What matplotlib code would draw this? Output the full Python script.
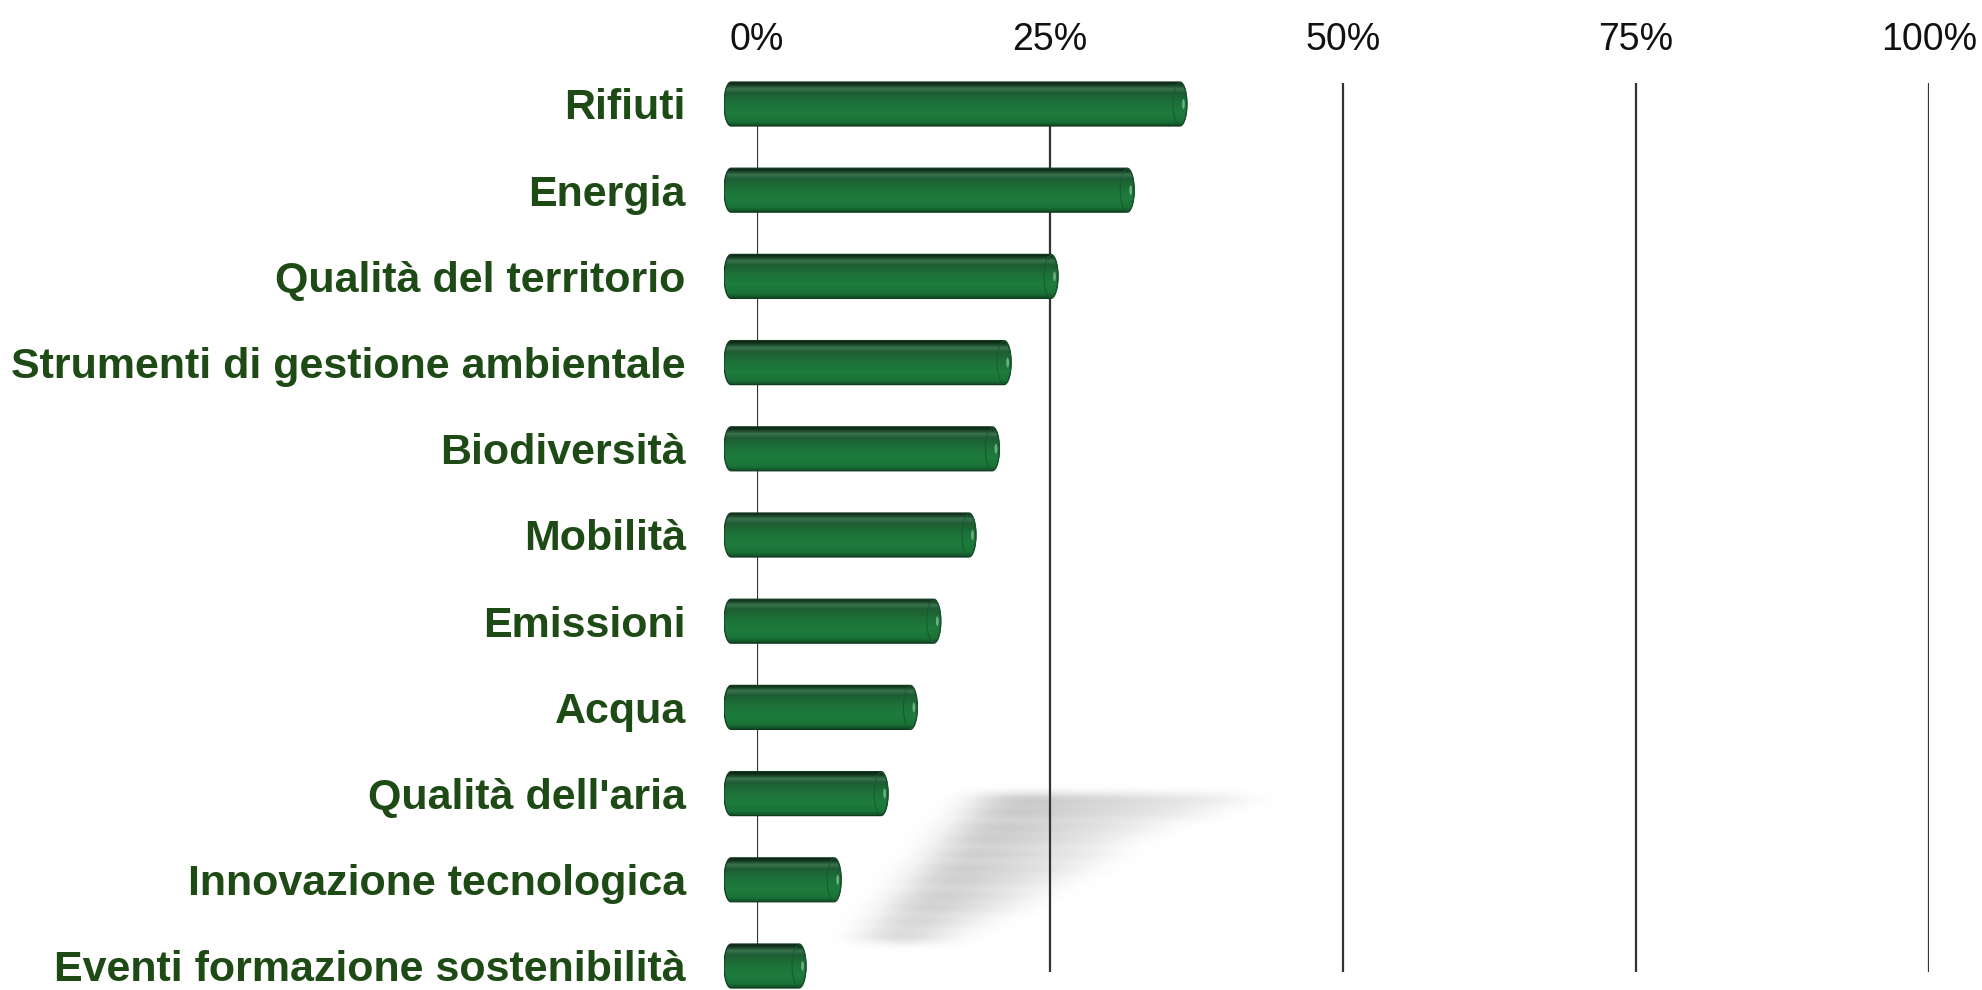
import numpy as np
import matplotlib
matplotlib.use("Agg")
import matplotlib.pyplot as plt
from matplotlib.colors import LinearSegmentedColormap
from matplotlib.patches import PathPatch, Ellipse
from matplotlib.path import Path

# data (percent of respondents)
categories = ["Rifiuti", "Energia", "Qualità del territorio",
              "Strumenti di gestione ambientale", "Biodiversità", "Mobilità",
              "Emissioni", "Acqua", "Qualità dell'aria",
              "Innovazione tecnologica", "Eventi formazione sostenibilità"]
values = [39.5, 35, 28.5, 24.5, 23.5, 21.5, 18.5, 16.5, 14, 10, 7]
ticks = [0, 25, 50, 75, 100]
tick_labels = ["0%", "25%", "50%", "75%", "100%"]

W, H = 1982, 990
plt.rcParams['font.family'] = ['Liberation Sans', 'DejaVu Sans']

# layout in pixels
px_per_pct = 11.72
bar_zero_px = 724       # where bars start (front plane)
grid_zero_px = 757      # where 0% gridline sits (back plane)
row0_px, row_step_px = 104, 86.2
grid_top_px, grid_bot_px = 83, 972
bar_half = 22 / row_step_px
cap_rx = 7 / px_per_pct

label_green = "#1d4a15"
cyl_cmap = LinearSegmentedColormap.from_list("cyl", [
    (0.00, "#0a1f10"), (0.07, "#173f24"), (0.15, "#3a7550"),
    (0.24, "#1f5c33"), (0.45, "#1c7038"), (0.70, "#1e7c3d"),
    (0.90, "#1a7238"), (1.00, "#0f4a22")])


def gaussian_blur(img, sx, sy):
    def kern(s):
        r = int(3 * s)
        k = np.exp(-np.arange(-r, r + 1) ** 2 / (2 * s * s))
        return k / k.sum()
    kx, ky = kern(sx), kern(sy)
    img = np.apply_along_axis(lambda r: np.convolve(r, kx, mode='same'), 1, img)
    img = np.apply_along_axis(lambda c: np.convolve(c, ky, mode='same'), 0, img)
    return img


def capsule_path(x1, yc, hh, rx):
    t = np.linspace(np.pi / 2, 3 * np.pi / 2, 25)
    left = np.column_stack([rx + rx * np.cos(t), yc - hh * np.sin(t)])
    t = np.linspace(-np.pi / 2, np.pi / 2, 25)
    right = np.column_stack([x1 - rx + rx * np.cos(t), yc - hh * np.sin(t)])
    verts = np.vstack([left, right, left[:1]])
    return Path(verts, closed=True)


def draw_cylinder(ax, yc, v):
    path = capsule_path(v, yc, bar_half, cap_rx)
    outline = PathPatch(path, facecolor="none", edgecolor="#123a1f", lw=0.9, zorder=3)
    ax.add_patch(outline)
    grad = np.linspace(0, 1, 200).reshape(-1, 1)
    im = ax.imshow(grad, extent=(0, v, yc + bar_half, yc - bar_half), origin='upper',
                   aspect='auto', cmap=cyl_cmap, zorder=2, interpolation='bilinear')
    im.set_clip_path(outline)
    # end cap
    ax.add_patch(Ellipse((v - cap_rx, yc), 2 * cap_rx, 2 * bar_half * 0.96,
                         facecolor="none", edgecolor="#165a2e", lw=0.7, zorder=4))
    ax.add_patch(Ellipse((v - cap_rx * 0.5, yc), cap_rx * 0.4, bar_half * 0.45,
                         facecolor="#8fc79f", edgecolor="none", alpha=0.7, zorder=4))


fig = plt.figure(figsize=(W / 100, H / 100), dpi=100)

# soft floor shadow of the bars, fading to the right
ax_sh = fig.add_axes([0, 0, 1, 1], zorder=0)
ax_sh.set_xlim(0, W)
ax_sh.set_ylim(H, 0)
ax_sh.axis('off')
sx0, sy0, sw, sh = 720, 720, 760, 270
canvas = np.zeros((sh, sw))
for i, v in enumerate(values):
    yc = 800 + 13.6 * i - sy0
    xs = int(985 - 11 * i - sx0)
    xe = int(xs + 40 + 5.5 * v)
    fade = np.linspace(1.0, 0.25, xe - xs)
    canvas[int(yc - 5):int(yc + 5), xs:xe] = fade
canvas = gaussian_blur(canvas, 24, 5.0)
rgba = np.zeros((sh, sw, 4))
rgba[..., 3] = np.clip(canvas / canvas.max(), 0, 1) * 0.21
ax_sh.imshow(rgba, extent=(sx0, sx0 + sw, sy0 + sh, sy0), origin='upper',
             aspect='auto', interpolation='bilinear')

# back plane with gridlines and percentage labels
grid_w = 100 * px_per_pct
ax_g = fig.add_axes([grid_zero_px / W, 1 - grid_bot_px / H, grid_w / W,
                     (grid_bot_px - grid_top_px) / H], zorder=1)
ax_g.patch.set_alpha(0)
ax_g.set_xlim(0, 100)
ax_g.set_ylim(0, 1)
for t in ticks:
    ax_g.axvline(t, color="#333333", lw=1.6)
ax_g.xaxis.tick_top()
ax_g.set_xticks(ticks, tick_labels)
ax_g.tick_params(axis='x', length=0, pad=18, labelsize=27, labelcolor="#111111")
ax_g.set_yticks([])
for s in ax_g.spines.values():
    s.set_visible(False)

# front plane with the cylinders and category labels
ax = fig.add_axes([bar_zero_px / W, 0, grid_w / W, 1], zorder=2)
ax.patch.set_alpha(0)
rows = np.arange(len(categories))
for r, v in zip(rows, values):
    draw_cylinder(ax, r, v)
ax.set_xlim(0, 100)
ax.set_ylim((H - row0_px) / row_step_px, -row0_px / row_step_px)
ax.set_yticks(rows, categories)
ax.tick_params(axis='y', length=0, pad=27.5, labelsize=31, labelcolor=label_green)
for lab in ax.get_yticklabels():
    lab.set_fontweight('bold')
ax.set_xticks([])
for s in ax.spines.values():
    s.set_visible(False)

fig.savefig("out.png", dpi=100)
